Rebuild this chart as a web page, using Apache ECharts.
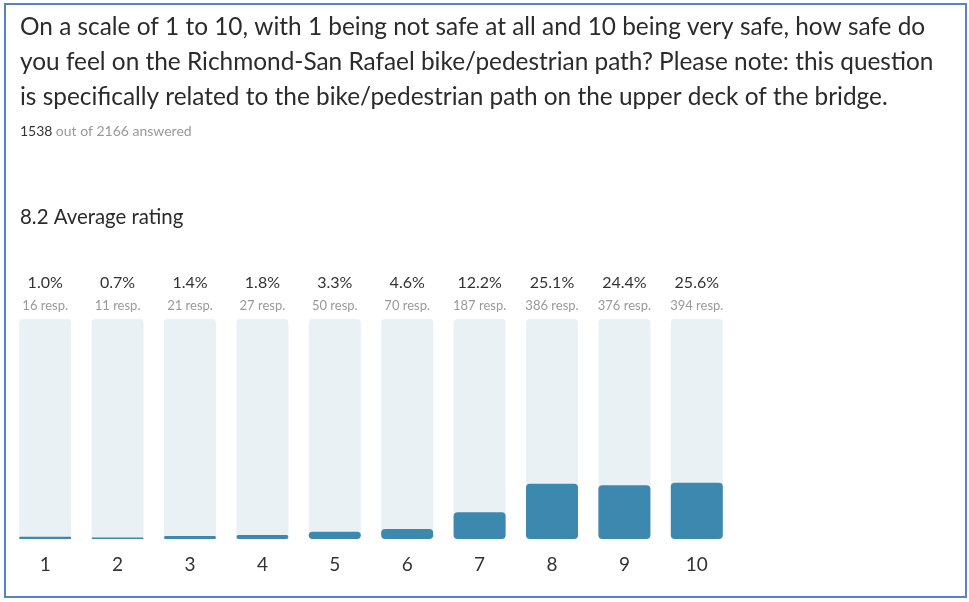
<!DOCTYPE html>
<html>
<head>
<meta charset="utf-8">
<script src="https://cdn.jsdelivr.net/npm/echarts@6/dist/echarts.min.js"></script>
<style>
  html, body { margin: 0; padding: 0; background: #fff; }
  #chart { width: 969px; height: 602px; }
</style>
</head>
<body>
<div id="chart"></div>
<script>
// Survey responses: safety rating of the bridge bike/pedestrian path
const ratings = ['1', '2', '3', '4', '5', '6', '7', '8', '9', '10'];
const percents = [1.0, 0.7, 1.4, 1.8, 3.3, 4.6, 12.2, 25.1, 24.4, 25.6];
const responses = [16, 11, 21, 27, 50, 70, 187, 386, 376, 394];

const questionLines = [
  'On a scale of 1 to 10, with 1 being not safe at all and 10 being very safe, how safe do',
  'you feel on the Richmond-San Rafael bike/pedestrian path? Please note: this question',
  'is specifically related to the bike/pedestrian path on the upper deck of the bridge.'
];
const answered = 1538;
const total = 2166;
const averageRating = 8.2;

const titleFont = 'Lato, "Noto Sans", sans-serif';

const chart = echarts.init(document.getElementById('chart'));

const graphics = [
  {
    type: 'rect',
    shape: { x: 5, y: 4, width: 961, height: 593 },
    style: { fill: 'none', stroke: '#5683c2', lineWidth: 2 },
    silent: true
  }
];
questionLines.forEach((line, i) => {
  graphics.push({
    type: 'text',
    left: 20,
    top: 15 + i * 35,
    style: { text: line, fontSize: 24.4, fontFamily: titleFont, fill: '#2b2b2b' }
  });
});
graphics.push({
  type: 'text',
  left: 20,
  top: 124,
  style: {
    text: '{b|' + answered + '} {g|out of ' + total + ' answered}',
    rich: {
      b: { fontSize: 14, fontFamily: titleFont, fill: '#333' },
      g: { fontSize: 14, fontFamily: titleFont, fill: '#999' }
    }
  }
});
graphics.push({
  type: 'text',
  left: 20,
  top: 207,
  style: { text: averageRating + ' Average rating', fontSize: 20.4, fontFamily: titleFont, fill: '#2b2b2b' }
});

chart.setOption({
  animation: false,
  grid: { left: 9, top: 319, width: 724, height: 220 },
  xAxis: [
    {
      type: 'category',
      data: ratings,
      position: 'bottom',
      axisLine: { show: false },
      axisTick: { show: false },
      axisLabel: { interval: 0, margin: 16, fontSize: 19, color: '#333', fontFamily: titleFont }
    },
    {
      type: 'category',
      data: ratings,
      position: 'top',
      axisLine: { show: false },
      axisTick: { show: false },
      axisLabel: {
        interval: 0,
        margin: 5,
        fontFamily: titleFont,
        formatter: (v, i) => '{p|' + percents[i].toFixed(1) + '%}\n{r|' + responses[i] + ' resp.}',
        rich: {
          p: { fontSize: 16, color: '#333', lineHeight: 30, fontFamily: titleFont },
          r: { fontSize: 13, color: '#999', lineHeight: 16, fontFamily: titleFont }
        }
      }
    }
  ],
  yAxis: { type: 'value', min: 0, max: 100, show: false },
  series: [
    {
      type: 'bar',
      data: percents,
      barWidth: 52,
      showBackground: true,
      backgroundStyle: { color: '#e9f1f5', borderRadius: 4 },
      itemStyle: { color: '#3d88ae', borderRadius: 4 }
    }
  ],
  graphic: graphics
});
</script>
</body>
</html>
